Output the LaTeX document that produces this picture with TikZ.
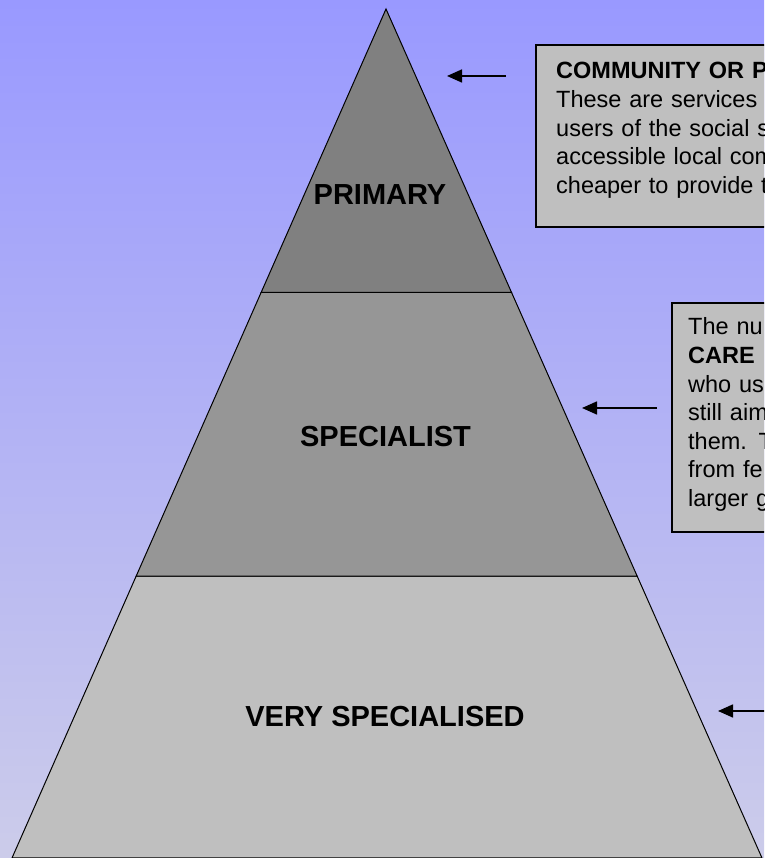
\documentclass[tikz,border=0pt]{standalone}
\usepackage{fontspec}
\setmainfont{Liberation Sans}
\usepackage{tikz}
\usetikzlibrary{arrows.meta,calc}

\definecolor{skytop}{RGB}{153,153,255}
\definecolor{skybottom}{RGB}{204,204,234}

\begin{document}
\begin{tikzpicture}[x=1pt,y=1pt,>={Triangle[length=15pt,width=13pt]},
    level label/.style={inner sep=0pt,anchor=base,font=\fontsize{29}{34}\selectfont\bfseries},
    note box/.style={draw=black,line width=2pt,fill=black!25},
    note text/.style={inner sep=0pt,anchor=base west,align=left,text width=400pt,font=\fontsize{23.5}{28.6}\selectfont},
    pointer/.style={->,line width=1.6pt}]

  \useasboundingbox (0,0) rectangle (764,858);
  \clip (0,0) rectangle (764,858);
  \shade[top color=skytop,bottom color=skybottom] (0,0) rectangle (764,858);

  % pyramid
  \coordinate (apex) at (386,849);
  \coordinate (bl) at (12,0);
  \coordinate (br) at (762,0);
  \coordinate (ml1) at ($(apex)!0.3337!(bl)$);
  \coordinate (mr1) at ($(apex)!0.3337!(br)$);
  \coordinate (ml2) at ($(apex)!0.668!(bl)$);
  \coordinate (mr2) at ($(apex)!0.668!(br)$);

  \filldraw[fill=black!25,line width=1pt] (ml2) -- (mr2) -- (br) -- (bl) -- cycle;
  \filldraw[fill=black!41,line width=1pt] (ml1) -- (mr1) -- (mr2) -- (ml2) -- cycle;
  \filldraw[fill=black!50,line width=1pt] (apex) -- (mr1) -- (ml1) -- cycle;

  \node[level label] (primary) at (380,653) {PRIMARY};
  \node[level label] (specialist) at (385.5,411) {SPECIALIST};
  \node[level label] (veryspec) at (385,131) {VERY SPECIALISED};

  % notes on the right
  \draw[note box] (536,813) rectangle (820,631);
  \node[note text] (community) at (556,779) {\textbf{COMMUNITY OR P}\\These are services\\users of the social s\\accessible local com\\cheaper to provide t};

  \draw[note box] (672,555) rectangle (820,326);
  \node[note text] (numbers) at (688,523) {The nu\\\textbf{CARE}\\who us\\still aim\\them. T\\from fe\\larger g};

  % pointers
  \coordinate (p1) at (506,782);
  \coordinate (t1) at (447,782);
  \coordinate (p2) at (657,450);
  \coordinate (t2) at (582,450);
  \coordinate (p3) at (800,147);
  \coordinate (t3) at (718,147);
  \draw[pointer] (p1) -- (t1);
  \draw[pointer] (p2) -- (t2);
  \draw[pointer] (p3) -- (t3);

\end{tikzpicture}
\end{document}
